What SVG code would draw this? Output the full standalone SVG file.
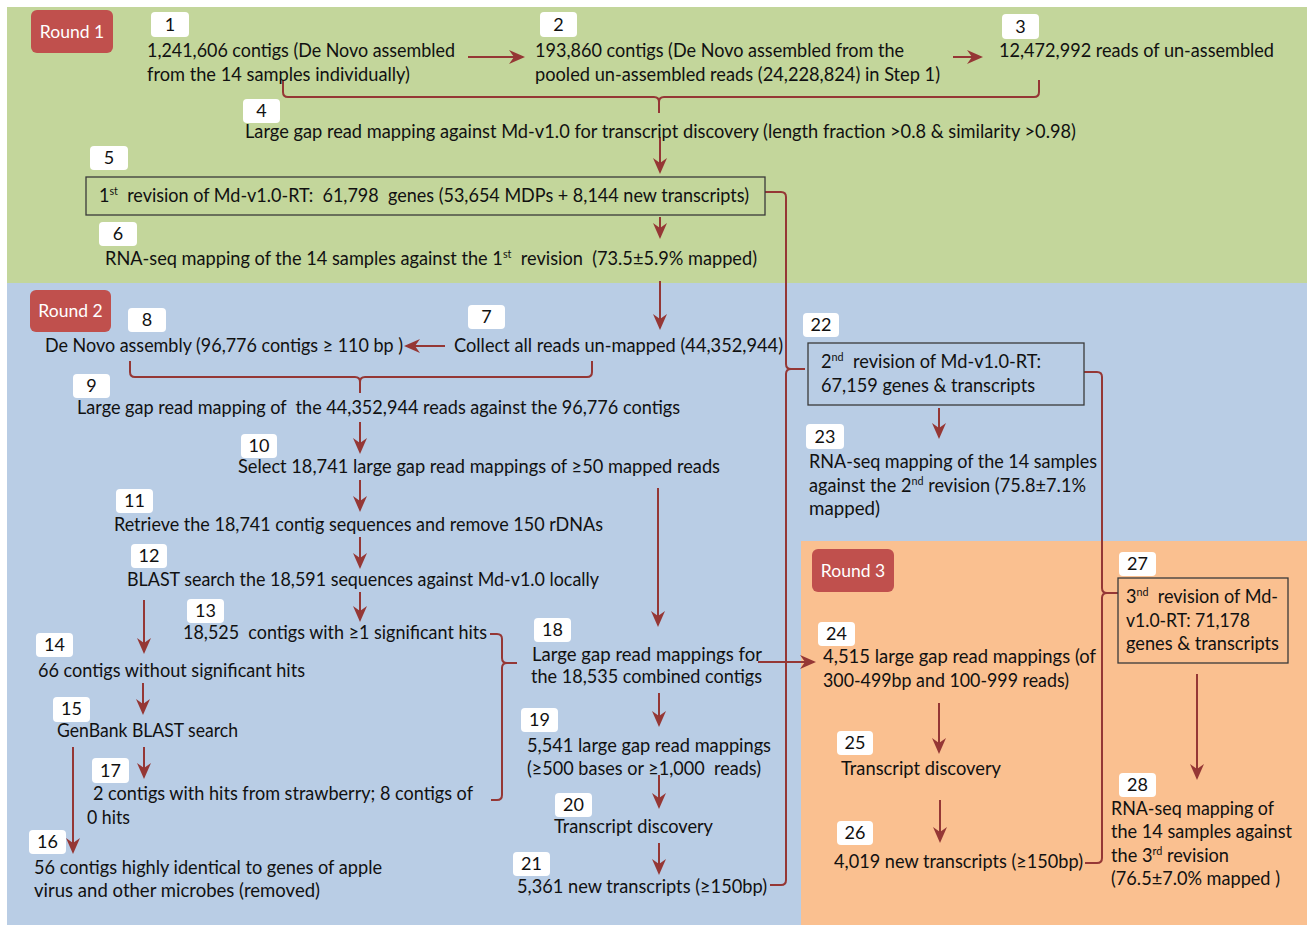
<svg xmlns="http://www.w3.org/2000/svg" width="1307" height="926" viewBox="0 0 1307 926">
<defs>
<style>
text{font-family:Lato,Carlito,"Liberation Sans",sans-serif;font-size:18.5px;fill:#111}
.num{text-anchor:middle;font-size:18px}
.nb{fill:#fff;stroke:none}
.rl{fill:#c0504d}
.rt{fill:#fff;font-size:17.5px;text-anchor:middle}
.box{fill:none;stroke:#3a3a3a;stroke-width:1.3}
.c{fill:none;stroke:#953735;stroke-width:2}
.a{fill:none;stroke:#953735;stroke-width:2;marker-end:url(#ah)}
.sup{font-size:11px}
</style>
<marker id="ah" markerUnits="userSpaceOnUse" markerWidth="16" markerHeight="14" refX="14" refY="7" orient="auto" viewBox="0 0 16 14">
<path d="M0,0 L16,7 L0,14 L5,7 z" fill="#953735"/>
</marker>
</defs>
<rect x="7" y="7" width="1300" height="276" fill="#c3d69b"/>
<rect x="7" y="283" width="1300" height="642" fill="#b9cde5"/>
<rect x="801" y="541" width="506" height="384" fill="#fac090"/>

<g id="round1"><rect class="rl" x="31" y="10" width="82" height="43" rx="6"/><text class="rt" x="72" y="38">Round 1</text></g>
<g id="round2"><rect class="rl" x="30" y="290" width="81" height="42" rx="6"/><text class="rt" x="70.5" y="317">Round 2</text></g>
<g id="round3"><rect class="rl" x="812" y="549" width="82" height="43" rx="6"/><text class="rt" x="853" y="577">Round 3</text></g>

<g id="connectors">
<line class="a" x1="468" y1="57" x2="523" y2="57"/>
<line class="a" x1="953" y1="57" x2="981" y2="57"/>
<path class="c" d="M283,80 V92 Q283,97 288,97 H654 Q659,97 659,102 V113 M659,102 Q659,97 664,97 H1034 Q1039,97 1039,92 V80"/>
<line class="a" x1="660" y1="137" x2="660" y2="172"/>
<line class="a" x1="660" y1="217" x2="660" y2="237"/>
<line class="a" x1="660" y1="281" x2="660" y2="328"/>
<path class="c" d="M765,192 H781 Q786,192 786,197 V364 Q786,369 791,369 H805 M791,369 Q786,369 786,374 V880 Q786,885 781,885 H770"/>
<line class="a" x1="445" y1="346" x2="406" y2="346"/>
<path class="c" d="M130,361 V372 Q130,377 135,377 H355 Q360,377 360,382 V393 M360,382 Q360,377 365,377 H587 Q592,377 592,372 V361"/>
<line class="a" x1="360" y1="422" x2="360" y2="452"/>
<line class="a" x1="360" y1="480" x2="360" y2="510"/>
<line class="a" x1="360" y1="537" x2="360" y2="567"/>
<line class="a" x1="360" y1="592" x2="360" y2="620"/>
<line class="a" x1="144" y1="600" x2="144" y2="652"/>
<line class="a" x1="143" y1="683" x2="143" y2="713"/>
<line class="a" x1="144" y1="747" x2="144" y2="777"/>
<line class="a" x1="73" y1="747" x2="73" y2="852"/>
<path class="c" d="M490,634 H497 Q502,634 502,639 V658 Q502,663 507,663 H517 M507,663 Q502,663 502,668 V795 Q502,800 497,800 H491"/>
<line class="a" x1="658" y1="488" x2="658" y2="625"/>
<line class="a" x1="659" y1="693" x2="659" y2="725"/>
<line class="a" x1="659" y1="775" x2="659" y2="807"/>
<line class="a" x1="659" y1="843" x2="659" y2="873"/>
<line class="a" x1="758" y1="662" x2="814" y2="662"/>
<line class="a" x1="939" y1="408" x2="939" y2="437"/>
<path class="c" d="M1084,372 H1097 Q1102,372 1102,377 V588 Q1102,593 1107,593 H1118 M1107,593 Q1102,593 1102,598 V858 Q1102,863 1097,863 H1085"/>
<line class="a" x1="939" y1="703" x2="939" y2="752"/>
<line class="a" x1="940" y1="800" x2="940" y2="841"/>
<line class="a" x1="1197" y1="674" x2="1197" y2="778"/>
</g>

<g id="n1"><rect class="nb" x="151" y="12" width="38" height="25" rx="4"/><text class="num" x="170" y="31">1</text>
<text x="147" y="57" textLength="308" lengthAdjust="spacingAndGlyphs">1,241,606 contigs (De Novo assembled</text>
<text x="147" y="81" textLength="263" lengthAdjust="spacingAndGlyphs">from the 14 samples individually)</text></g>

<g id="n2"><rect class="nb" x="540" y="12" width="37" height="25" rx="4"/><text class="num" x="558.5" y="31">2</text>
<text x="535" y="57" textLength="369" lengthAdjust="spacingAndGlyphs">193,860 contigs (De Novo assembled from the</text>
<text x="535" y="81" textLength="405" lengthAdjust="spacingAndGlyphs">pooled un-assembled reads (24,228,824) in Step 1)</text></g>

<g id="n3"><rect class="nb" x="1002" y="14" width="37" height="25" rx="4"/><text class="num" x="1020.5" y="33">3</text>
<text x="999" y="57" textLength="275" lengthAdjust="spacingAndGlyphs">12,472,992 reads of un-assembled</text></g>

<g id="n4"><rect class="nb" x="243" y="99" width="37" height="24" rx="4"/><text class="num" x="261.5" y="117">4</text>
<text x="245" y="138" textLength="831" lengthAdjust="spacingAndGlyphs">Large gap read mapping against Md-v1.0 for transcript discovery (length fraction &gt;0.8 &amp; similarity &gt;0.98)</text></g>

<g id="n5"><rect class="nb" x="90" y="146" width="38" height="24" rx="4"/><text class="num" x="109" y="164">5</text>
<rect class="box" x="86" y="177" width="679" height="38"/>
<text x="99" y="202" xml:space="preserve" textLength="650" lengthAdjust="spacingAndGlyphs">1<tspan class="sup" dy="-7">st</tspan><tspan dy="7">  revision of Md-v1.0-RT:  61,798  genes (53,654 MDPs + 8,144 new transcripts)</tspan></text></g>

<g id="n6"><rect class="nb" x="99" y="222" width="38" height="24" rx="4"/><text class="num" x="118" y="240">6</text>
<text x="105" y="265" xml:space="preserve" textLength="652" lengthAdjust="spacingAndGlyphs">RNA-seq mapping of the 14 samples against the 1<tspan class="sup" dy="-7">st</tspan><tspan dy="7">  revision  (73.5±5.9% mapped)</tspan></text></g>

<g id="n7"><rect class="nb" x="468" y="305" width="37" height="24" rx="4"/><text class="num" x="486.5" y="323">7</text>
<text x="454" y="352" textLength="329" lengthAdjust="spacingAndGlyphs">Collect all reads un-mapped (44,352,944)</text></g>

<g id="n8"><rect class="nb" x="128" y="308" width="38" height="24" rx="4"/><text class="num" x="147" y="326">8</text>
<text x="45" y="352" textLength="358" lengthAdjust="spacingAndGlyphs">De Novo assembly (96,776 contigs ≥ 110 bp )</text></g>

<g id="n9"><rect class="nb" x="73" y="374" width="37" height="24" rx="4"/><text class="num" x="91.5" y="392">9</text>
<text x="77" y="414" xml:space="preserve" textLength="603" lengthAdjust="spacingAndGlyphs">Large gap read mapping of  the 44,352,944 reads against the 96,776 contigs</text></g>

<g id="n10"><rect class="nb" x="241" y="434" width="36" height="24" rx="4"/><text class="num" x="259" y="452">10</text>
<text x="238" y="473" textLength="482" lengthAdjust="spacingAndGlyphs">Select 18,741 large gap read mappings of ≥50 mapped reads</text></g>

<g id="n11"><rect class="nb" x="116" y="489" width="37" height="24" rx="4"/><text class="num" x="134.5" y="507">11</text>
<text x="114" y="531" textLength="489" lengthAdjust="spacingAndGlyphs">Retrieve the 18,741 contig sequences and remove 150 rDNAs</text></g>

<g id="n12"><rect class="nb" x="131" y="544" width="36" height="24" rx="4"/><text class="num" x="149" y="562">12</text>
<text x="127" y="586" textLength="472" lengthAdjust="spacingAndGlyphs">BLAST search the 18,591 sequences against Md-v1.0 locally</text></g>

<g id="n13"><rect class="nb" x="187" y="599" width="37" height="24" rx="4"/><text class="num" x="205.5" y="617">13</text>
<text x="183" y="639" xml:space="preserve" textLength="304" lengthAdjust="spacingAndGlyphs">18,525  contigs with ≥1 significant hits</text></g>

<g id="n14"><rect class="nb" x="36" y="633" width="37" height="24" rx="4"/><text class="num" x="54.5" y="651">14</text>
<text x="38" y="677" textLength="267" lengthAdjust="spacingAndGlyphs">66 contigs without significant hits</text></g>

<g id="n15"><rect class="nb" x="53" y="697" width="37" height="25" rx="4"/><text class="num" x="71.5" y="715">15</text>
<text x="57" y="737" textLength="181" lengthAdjust="spacingAndGlyphs">GenBank BLAST search</text></g>

<g id="n16"><rect class="nb" x="29" y="830" width="37" height="24" rx="4"/><text class="num" x="47.5" y="848">16</text>
<text x="34" y="874" textLength="348" lengthAdjust="spacingAndGlyphs">56 contigs highly identical to genes of apple</text>
<text x="34" y="897" textLength="286" lengthAdjust="spacingAndGlyphs">virus and other microbes (removed)</text></g>

<g id="n17"><rect class="nb" x="92" y="758" width="37" height="25" rx="4"/><text class="num" x="110.5" y="777">17</text>
<text x="93" y="800" textLength="380" lengthAdjust="spacingAndGlyphs">2 contigs with hits from strawberry; 8 contigs of</text>
<text x="87" y="824" textLength="43" lengthAdjust="spacingAndGlyphs">0 hits</text></g>

<g id="n18"><rect class="nb" x="534" y="618" width="37" height="24" rx="4"/><text class="num" x="552.5" y="636">18</text>
<text x="532" y="661" textLength="230" lengthAdjust="spacingAndGlyphs">Large gap read mappings for</text>
<text x="531" y="683" textLength="231" lengthAdjust="spacingAndGlyphs">the 18,535 combined contigs</text></g>

<g id="n19"><rect class="nb" x="521" y="708" width="37" height="24" rx="4"/><text class="num" x="539.5" y="726">19</text>
<text x="527" y="752" textLength="244" lengthAdjust="spacingAndGlyphs">5,541 large gap read mappings</text>
<text x="527" y="775" xml:space="preserve" textLength="234" lengthAdjust="spacingAndGlyphs">(≥500 bases or ≥1,000  reads)</text></g>

<g id="n20"><rect class="nb" x="555" y="793" width="37" height="24" rx="4"/><text class="num" x="573.5" y="811">20</text>
<text x="554" y="833" textLength="159" lengthAdjust="spacingAndGlyphs">Transcript discovery</text></g>

<g id="n21"><rect class="nb" x="513" y="852" width="37" height="24" rx="4"/><text class="num" x="531.5" y="870">21</text>
<text x="517" y="893" textLength="250" lengthAdjust="spacingAndGlyphs">5,361 new transcripts (≥150bp)</text></g>

<g id="n22"><rect class="nb" x="803" y="313" width="36" height="24" rx="4"/><text class="num" x="821" y="331">22</text>
<rect class="box" x="808" y="343" width="276" height="62"/>
<text x="821" y="368" xml:space="preserve" textLength="220" lengthAdjust="spacingAndGlyphs">2<tspan class="sup" dy="-7">nd</tspan><tspan dy="7">  revision of Md-v1.0-RT:</tspan></text>
<text x="821" y="392" textLength="214" lengthAdjust="spacingAndGlyphs">67,159 genes &amp; transcripts</text></g>

<g id="n23"><rect class="nb" x="806" y="424" width="38" height="25" rx="4"/><text class="num" x="825" y="443">23</text>
<text x="809" y="468" textLength="288" lengthAdjust="spacingAndGlyphs">RNA-seq mapping of the 14 samples</text>
<text x="809" y="492" textLength="277" lengthAdjust="spacingAndGlyphs">against the 2<tspan class="sup" dy="-7">nd</tspan><tspan dy="7"> revision (75.8±7.1%</tspan></text>
<text x="809" y="515" textLength="71" lengthAdjust="spacingAndGlyphs">mapped)</text></g>

<g id="n24"><rect class="nb" x="818" y="622" width="37" height="24" rx="4"/><text class="num" x="836.5" y="640">24</text>
<text x="823" y="663" textLength="273" lengthAdjust="spacingAndGlyphs">4,515 large gap read mappings (of</text>
<text x="823" y="687" textLength="246" lengthAdjust="spacingAndGlyphs">300-499bp and 100-999 reads)</text></g>

<g id="n25"><rect class="nb" x="837" y="731" width="36" height="24" rx="4"/><text class="num" x="855" y="749">25</text>
<text x="841" y="775" textLength="160" lengthAdjust="spacingAndGlyphs">Transcript discovery</text></g>

<g id="n26"><rect class="nb" x="837" y="821" width="36" height="24" rx="4"/><text class="num" x="855" y="839">26</text>
<text x="834" y="868" textLength="249" lengthAdjust="spacingAndGlyphs">4,019 new transcripts (≥150bp)</text></g>

<g id="n27"><rect class="nb" x="1119" y="552" width="37" height="24" rx="4"/><text class="num" x="1137.5" y="570">27</text>
<rect class="box" x="1118" y="578" width="170" height="85"/>
<text x="1126" y="603" xml:space="preserve" textLength="152" lengthAdjust="spacingAndGlyphs">3<tspan class="sup" dy="-7">nd</tspan><tspan dy="7">  revision of Md-</tspan></text>
<text x="1126" y="627" textLength="124" lengthAdjust="spacingAndGlyphs">v1.0-RT: 71,178</text>
<text x="1126" y="650" textLength="153" lengthAdjust="spacingAndGlyphs">genes &amp; transcripts</text></g>

<g id="n28"><rect class="nb" x="1119" y="773" width="37" height="24" rx="4"/><text class="num" x="1137.5" y="791">28</text>
<text x="1111" y="815" textLength="163" lengthAdjust="spacingAndGlyphs">RNA-seq mapping of</text>
<text x="1111" y="838" textLength="181" lengthAdjust="spacingAndGlyphs">the 14 samples against</text>
<text x="1111" y="862" textLength="118" lengthAdjust="spacingAndGlyphs">the 3<tspan class="sup" dy="-7">rd</tspan><tspan dy="7"> revision</tspan></text>
<text x="1111" y="885" textLength="169" lengthAdjust="spacingAndGlyphs">(76.5±7.0% mapped )</text></g>
</svg>
